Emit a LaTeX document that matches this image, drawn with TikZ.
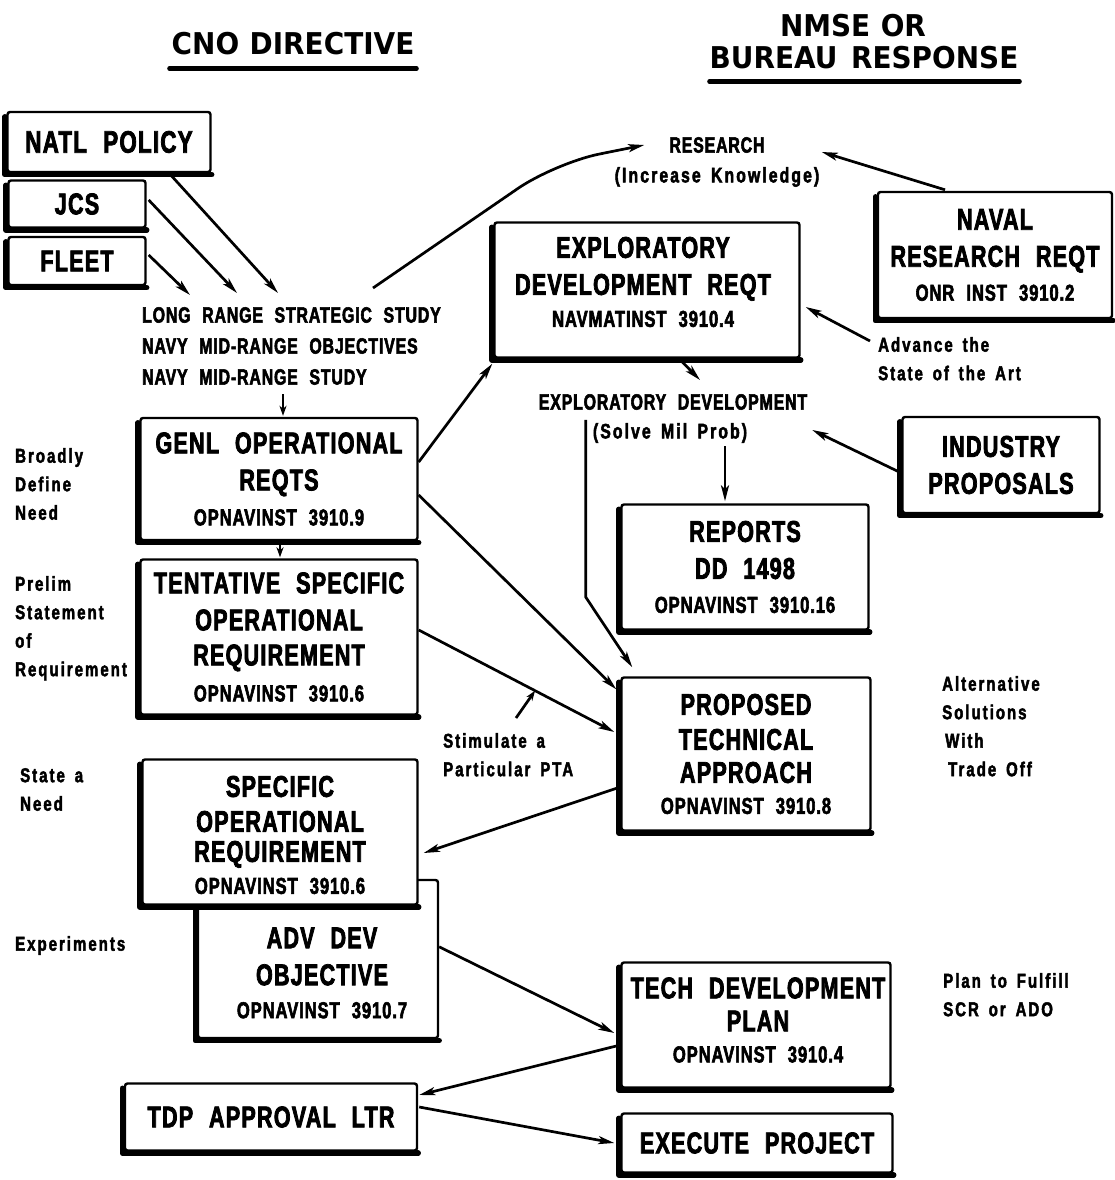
\documentclass[tikz,border=0pt]{standalone}
\usepackage{fontspec}
\usetikzlibrary{arrows.meta,calc}
% condensed heavy sans for box texts and labels
\newfontfamily\bxf{Liberation Sans}[FakeStretch=0.72,WordSpace=2.2,LetterSpace=4,FakeBold=2.5]
\newfontfamily\lblf{Liberation Sans}[FakeStretch=0.75,WordSpace=1.6,LetterSpace=10,FakeBold=2.2]
\newfontfamily\hdf{DejaVu Sans}[FakeStretch=0.93]
\newcommand\bigtx{\bxf\bfseries\fontsize{30}{37}\selectfont}
\newcommand\subtx{\fontsize{23}{35}\selectfont}
\newcommand\midtx{\bxf\bfseries\fontsize{22}{31}\selectfont}
\newcommand\lbltx{\lblf\bfseries\fontsize{20}{28.5}\selectfont}
\newcommand\hdrtx{\hdf\bfseries\fontsize{30}{36}\selectfont}
% heavy left and bottom edge of a box
\newcommand\edgeof[1]{\draw[boxedge] ($(#1.north west)+(-1.5,6)$) -- ($(#1.south west)+(-1.5,1.5)$) -- ($(#1.south east)+(0,1.5)$);}

\tikzset{
  box/.style={draw, line width=2.4pt, fill=white, rounded corners=2.5pt, inner sep=0pt,
              align=center, font=\bigtx},
  boxedge/.style={line width=5.5pt, line cap=round, line join=round},
  txt/.style={inner sep=0pt, align=center},
  lbl/.style={inner sep=0pt, align=left, anchor=north west, font=\lbltx},
  arr/.style={line width=2.7pt, -{Stealth[length=16pt,width=8pt,inset=4pt]}},
  sarr/.style={line width=2.7pt, -{Stealth[length=10pt,width=7pt,inset=3pt]}},
  uline/.style={line width=4.5pt, line cap=round},
}

\begin{document}
\begin{tikzpicture}[x=1pt,y=-1pt]
\useasboundingbox[fill=white] (0,0) rectangle (1115,1180);

% column headings
\node[txt, font=\hdrtx] (cno) at (293,44) {CNO\hspace{0.35em}DIRECTIVE};
\node[txt, font=\hdrtx] (nmse) at (853,26) {NMSE\hspace{0.35em}OR};
\node[txt, font=\hdrtx] (bureau) at (864,58) {BUREAU\hspace{0.45em}RESPONSE};
\draw[uline] ($(cno.south west)+(-2,13)$) -- ($(cno.south east)+(2,13)$);
\draw[uline] ($(bureau.south west)+(0,12)$) -- ($(bureau.south east)+(1,12)$);

% sources of guidance
\node[box, minimum width=203, minimum height=60, font=\bigtx\fontsize{31}{37}\selectfont] (natl) at (109,142) {NATL POLICY}; \edgeof{natl}
\node[box, minimum width=137, minimum height=47] (jcs) at (77,204) {JCS}; \edgeof{jcs}
\node[box, minimum width=137, minimum height=48] (fleet) at (77,261) {FLEET}; \edgeof{fleet}

\node[txt, anchor=north west, align=left, font=\midtx] (study) at (142,307)
  {LONG RANGE STRATEGIC STUDY\\NAVY MID-RANGE OBJECTIVES\\NAVY MID-RANGE STUDY};

% research side
\node[txt, font=\midtx] (research) at (717,145) {RESEARCH};
\node[txt, font=\lbltx\fontsize{21}{28}\selectfont] (knowledge) at (717,177) {(Increase Knowledge)};

\node[box, minimum width=234, minimum height=126] (naval) at (995,255)
  {NAVAL\\RESEARCH REQT\\[-3pt]{\subtx ONR INST 3910.2}}; \edgeof{naval}

\node[box, minimum width=305, minimum height=135] (explreq) at (647,290) {}; \edgeof{explreq}
\node[txt, font=\bigtx] (explreqtext) at (643,282)
  {EXPLORATORY\\DEVELOPMENT REQT\\[-5pt]{\subtx NAVMATINST 3910.4}};

\node[lbl] (advance) at (878,337) {Advance the\\State of the Art};

\node[txt, font=\midtx] (expldev) at (673,402) {EXPLORATORY DEVELOPMENT};
\node[txt, font=\lbltx\fontsize{21}{28}\selectfont] (solve) at (670,433) {(Solve Mil Prob)};

\node[box, minimum width=197, minimum height=96] (industry) at (1001,465)
  {INDUSTRY\\PROPOSALS}; \edgeof{industry}

% requirement chain
\node[box, minimum width=277, minimum height=122] (genl) at (279,479)
  {GENL OPERATIONAL\\REQTS\\[-2pt]{\subtx OPNAVINST 3910.9}}; \edgeof{genl}
\node[lbl] (broadly) at (15,448) {Broadly\\Define\\Need};

\node[box, minimum width=247, minimum height=125] (reports) at (745,567)
  {REPORTS\\DD 1498\\[-3pt]{\subtx OPNAVINST 3910.16}}; \edgeof{reports}

\node[box, minimum width=277, minimum height=155] (tent) at (279,637)
  {TENTATIVE SPECIFIC\\OPERATIONAL\\[-2pt]REQUIREMENT\\[-1pt]{\subtx OPNAVINST 3910.6}}; \edgeof{tent}
\node[lbl] (prelim) at (15,576) {Prelim\\Statement\\of\\Requirement};

\node[box, minimum width=249, minimum height=153] (pta) at (746,754)
  {PROPOSED\\[-2pt]TECHNICAL\\[-4pt]APPROACH\\[-6pt]{\subtx OPNAVINST 3910.8}}; \edgeof{pta}
\node[lbl] (alt) at (942,676) {Alternative\\Solutions\\\hspace{3pt}With\\\hspace{6pt}Trade Off};

\node[lbl] (stim) at (443,733) {Stimulate a\\Particular PTA};

\node[box, minimum width=240, minimum height=158] (ado) at (318,959) {}; \edgeof{ado}
\node[txt, font=\bigtx] (adotext) at (322,973) {ADV DEV\\OBJECTIVE\\[-4pt]{\subtx OPNAVINST 3910.7}};

\node[box, minimum width=275, minimum height=145] (sor) at (280,832) {}; \edgeof{sor}
\node[txt, font=\bigtx] (sortext) at (280,835)
  {SPECIFIC\\[-2pt]OPERATIONAL\\[-7pt]REQUIREMENT\\[-5pt]{\subtx OPNAVINST 3910.6}};
\node[lbl] (statea) at (20,768) {State a\\Need};
\node[lbl] (experiments) at (15,936) {Experiments};

\node[box, minimum width=269, minimum height=125] (tech) at (756,1025) {}; \edgeof{tech}
\node[txt, font=\bigtx] (techtext) at (758,1020)
  {TECH DEVELOPMENT\\[-4pt]PLAN\\[-6pt]{\subtx OPNAVINST 3910.4}};
\node[lbl] (plan) at (943,973) {Plan to Fulfill\\SCR or ADO};

\node[box, minimum width=292, minimum height=67] (tdp) at (271,1117) {TDP APPROVAL LTR}; \edgeof{tdp}
\node[box, minimum width=271, minimum height=59] (exec) at (757,1143) {EXECUTE PROJECT}; \edgeof{exec}

% connectors
\draw[arr] ($(natl.south)+(61,1)$) -- ($(study.north west)+(136,-14)$);
\draw[arr] ($(jcs.east)+(2,-4)$) -- ($(study.north west)+(95,-14)$);
\draw[arr] ($(fleet.east)+(2,-6)$) -- ($(study.north west)+(48,-12)$);
\draw[arr, rounded corners=45pt] ($(study.north west)+(231,-19)$) -- (555,163) -- ($(research.west)+(-25,0)$);
\draw[sarr] ($(study.north west)+(141,87)$) -- ($(genl.north)+(4,-1)$);

\draw[arr] ($(naval.north)+(-50,-1)$) -- ($(research.east)+(57,7)$);
\draw[arr] ($(advance.north west)+(-8,4)$) -- ($(explreq.east)+(5,17)$);
\draw[arr] ($(explreq.south)+(32,0)$) -- ($(expldev.north)+(27,-14)$);
\draw[arr] ($(industry.west)+(0,8)$) -- ($(solve.east)+(65,-3)$);
\draw[arr] ($(reports.north)+(-20,-57)$) -- ($(reports.north)+(-20,-2)$);
\draw[arr] ($(expldev.south west)+(47,10)$) -- ++(0,177) -- ($(pta.north west)+(12,-9)$);

\draw[arr] ($(genl.east)+(0,-17)$) -- ($(explreq.south west)+(-1,5)$);
\draw[arr] ($(genl.east)+(0,16)$) -- ($(pta.north west)+(-4,13)$);
\coordinate (ta) at ($(tent.east)+(0,-7)$);
\coordinate (tb) at ($(pta.west)+(-6,-22)$);
\draw[arr] (ta) -- (tb);
\draw[sarr] ($(stim.north west)+(73,-15)$) -- ($(ta)!0.595!(tb)$);
\draw[sarr] ($(genl.south)+(1,1)$) -- ($(tent.north)+(1,-1)$);

\draw[arr] ($(pta.west)+(0,33)$) -- ($(sor.east)+(5,21)$);
\draw[arr] ($(ado.north east)+(0,68)$) -- ($(tech.west)+(-6,8)$);
\draw[arr] ($(tech.west)+(0,20)$) -- ($(tdp.east)+(1,-22)$);
\draw[arr] ($(tdp.east)+(1,-10)$) -- ($(exec.west)+(-6,0)$);
\end{tikzpicture}
\end{document}
